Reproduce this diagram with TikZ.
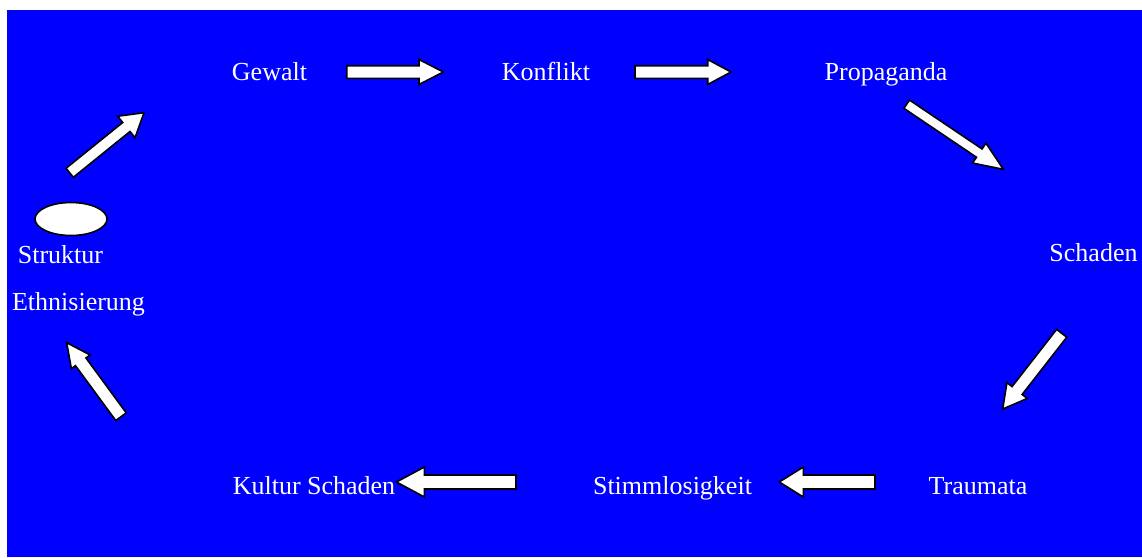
\documentclass[tikz,border=0pt]{standalone}
\usepackage{fontspec}
\setmainfont{Liberation Serif}
\usetikzlibrary{calc,shapes.geometric}
\newcommand\blockarrow[5]{%
  \coordinate (#1-#2-h) at ($(#2)!#5!(#1)$);
  \path[blockarr] ($(#1)!#3!90:(#2)$) -- ($(#1-#2-h)!#3!-90:(#1)$) -- ($(#1-#2-h)!#4!-90:(#1)$) -- (#2) -- ($(#1-#2-h)!#4!90:(#1)$) -- ($(#1-#2-h)!#3!90:(#1)$) -- ($(#1)!#3!-90:(#2)$) -- cycle;}
\definecolor{bg}{RGB}{0,0,255}
\tikzset{
  txt/.style={text=white, font=\fontsize{26}{30}\selectfont, anchor=base, inner sep=0pt},
  blockarr/.style={fill=white, draw=black, line width=1.6pt, line join=miter},
  blob/.style={ellipse, fill=white, draw=black, line width=1.6pt, minimum width=72pt, minimum height=33pt, inner sep=0pt}
}
\begin{document}
\begin{tikzpicture}[x=1pt,y=-1pt]
\useasboundingbox (0,0) rectangle (1142,557);
\fill[white] (0,0) rectangle (1142,557);
\fill[bg] (7,10) rectangle (1142,557);
% labels
\node[txt] (gewalt) at (269.5,80) {Gewalt};
\node[txt] (konflikt) at (546,80.5) {Konflikt};
\node[txt] (propaganda) at (886,80) {Propaganda};
\node[txt] (schaden) at (1093.5,261.5) {Schaden};
\node[txt] (traumata) at (978,494.3) {Traumata};
\node[txt] (stimm) at (672.5,494.3) {Stimmlosigkeit};
\node[txt] (kultur) at (314,494.3) {Kultur Schaden};
\node[txt] (ethn) at (78.5,310) {Ethnisierung};
\node[txt] (struktur) at (60.5,263) {Struktur};
\node[blob] (oval) at (71,219) {};
% arrow ends
\coordinate (t1) at (346.7,72);   \coordinate (p1) at (443.3,72);
\coordinate (t2) at (635,72);     \coordinate (p2) at (731,72);
\coordinate (t3) at (906.7,104.2);\coordinate (p3) at (1003.3,169.3);
\coordinate (t4) at (1061.7,333.3);\coordinate (p4) at (1002.7,409);
\coordinate (t5) at (875,482);    \coordinate (p5) at (779.3,482);
\coordinate (t6) at (516,482);    \coordinate (p6) at (396.4,482);
\coordinate (t7) at (121,416.7);  \coordinate (p7) at (66.7,342.7);
\coordinate (t8) at (69.7,172.8); \coordinate (p8) at (144,112.7);
\blockarrow{t1}{p1}{6.3pt}{12.5pt}{24.3pt}
\blockarrow{t2}{p2}{6.3pt}{12.5pt}{23.3pt}
\blockarrow{t3}{p3}{5pt}{12pt}{29pt}
\blockarrow{t4}{p4}{6.4pt}{12.9pt}{23.4pt}
\blockarrow{t5}{p5}{7pt}{15pt}{24pt}
\blockarrow{t6}{p6}{7pt}{15pt}{28pt}
\blockarrow{t7}{p7}{6.5pt}{11.6pt}{23.7pt}
\blockarrow{t8}{p8}{5.8pt}{13.8pt}{22.7pt}
\end{tikzpicture}
\end{document}
